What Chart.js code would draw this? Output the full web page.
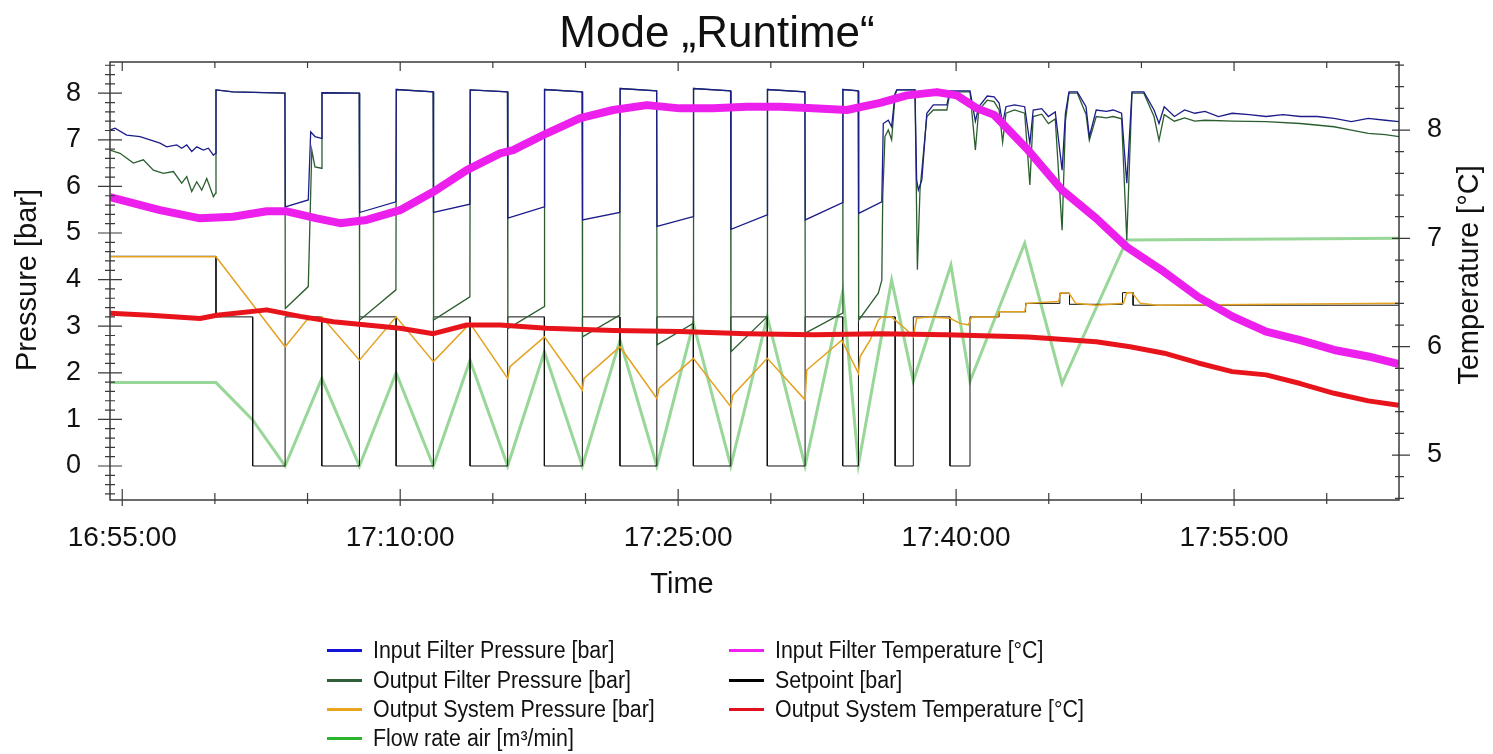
<!DOCTYPE html>
<html>
<head>
<meta charset="utf-8">
<title>Mode Runtime</title>
<script src="https://cdn.jsdelivr.net/npm/chart.js@4.4.1/dist/chart.umd.min.js"></script>
<style>
  body { margin: 0; background: #fff; }
  #wrap { position: relative; width: 1493px; height: 754px; }
  #legend .item { position: absolute; height: 30px; display: flex; align-items: center; }
  #legend .swatch { width: 35px; height: 3px; flex: none; }
  #legend .label { margin-left: 11px; font: 23px 'Liberation Sans', Arial, sans-serif; color: #111;
                   transform: scaleX(0.93); transform-origin: left center; white-space: nowrap; }
</style>
</head>
<body>
<div id="wrap">
  <canvas id="runtime" width="1493" height="754"></canvas>
  <div id="legend"></div>
</div>
<script>
// time = minutes after 16:55:00
const inputFilterPressure = [
  [-0.66, 7.21], [-0.39, 7.25], [0.24, 7.10], [0.96, 7.07], [1.50, 7.00], [2.04, 6.93], [2.40, 6.85],
  [2.94, 6.89], [3.21, 6.82], [3.48, 6.89], [3.75, 6.75], [4.02, 6.85], [4.38, 6.78], [4.65, 6.82],
  [4.92, 6.67], [5.03, 6.71], [5.06, 8.07], [5.98, 8.03], [8.78, 8.00], [8.80, 5.56], [10.04, 5.71],
  [10.17, 7.17], [10.40, 7.07], [10.75, 7.03], [10.78, 8.01], [12.79, 8.00], [12.81, 5.44], [14.77, 5.67],
  [14.79, 8.08], [16.78, 8.03], [16.80, 5.44], [18.76, 5.62], [18.78, 8.07], [20.79, 8.03], [20.81, 5.32],
  [22.77, 5.56], [22.79, 8.08], [24.82, 8.03], [24.84, 5.28], [26.85, 5.44], [26.87, 8.10], [28.84, 8.05],
  [28.86, 5.14], [30.81, 5.35], [30.83, 8.10], [32.83, 8.05], [32.85, 5.08], [34.80, 5.39], [34.82, 8.08],
  [36.84, 8.03], [36.86, 5.28], [38.87, 5.65], [38.89, 8.08], [39.72, 8.05], [39.74, 5.42], [40.99, 5.67],
  [41.07, 7.35], [41.34, 7.42], [41.52, 7.28], [41.71, 8.00], [41.80, 8.07], [42.78, 8.07], [42.87, 6.14],
  [42.96, 5.92], [43.15, 6.14], [43.42, 7.57], [43.77, 7.75], [44.50, 7.75], [44.67, 8.05], [45.75, 8.05],
  [46.04, 7.40], [46.22, 7.71], [46.68, 7.94], [47.05, 7.92], [47.32, 7.79], [47.51, 7.35], [47.69, 7.71],
  [48.15, 7.75], [48.70, 7.71], [48.98, 6.92], [49.16, 7.64], [49.62, 7.67], [49.98, 7.50], [50.35, 7.60],
  [50.72, 6.35], [50.90, 7.57], [51.09, 8.03], [51.54, 8.03], [52.01, 7.71], [52.19, 7.07], [52.56, 7.64],
  [53.11, 7.61], [53.48, 7.64], [53.93, 7.57], [54.21, 6.07], [54.49, 8.03], [55.13, 8.03], [55.68, 7.64],
  [55.95, 7.35], [56.23, 7.71], [56.78, 7.50], [57.33, 7.64], [57.88, 7.57], [58.43, 7.61], [59.16, 7.50],
  [59.90, 7.57], [60.82, 7.54], [61.73, 7.50], [62.65, 7.54], [63.57, 7.50], [64.49, 7.50], [65.40, 7.46],
  [66.33, 7.39], [67.24, 7.46], [68.16, 7.42], [68.90, 7.39]
];

const outputFilterPressure = [
  [-0.66, 6.78], [-0.12, 6.71], [0.60, 6.50], [1.14, 6.57], [1.68, 6.35], [2.22, 6.28], [2.76, 6.32],
  [3.21, 6.07], [3.48, 6.21], [3.75, 5.89], [4.02, 6.10], [4.29, 5.92], [4.56, 6.17], [4.92, 5.78],
  [5.03, 5.85], [5.06, 8.07], [5.98, 8.03], [8.78, 8.00], [8.80, 3.38], [10.04, 3.85], [10.23, 6.78],
  [10.40, 6.42], [10.75, 6.39], [10.78, 8.01], [12.79, 8.00], [12.81, 3.13], [14.77, 3.78], [14.79, 8.08],
  [16.78, 8.03], [16.80, 3.13], [18.76, 3.63], [18.78, 8.07], [20.79, 8.03], [20.81, 2.95], [22.77, 3.42],
  [22.79, 8.08], [24.82, 8.03], [24.84, 2.77], [26.85, 3.24], [26.87, 8.10], [28.84, 8.05], [28.86, 2.60],
  [30.81, 3.06], [30.83, 8.10], [32.83, 8.05], [32.85, 2.45], [34.80, 3.20], [34.82, 8.08], [36.84, 8.03],
  [36.86, 2.85], [38.87, 3.28], [38.89, 8.08], [39.72, 8.05], [39.74, 3.13], [40.80, 3.71], [40.99, 3.99],
  [41.04, 5.78], [41.16, 7.07], [41.34, 7.21], [41.52, 7.00], [41.71, 7.96], [41.80, 8.07], [42.78, 8.07],
  [42.91, 4.21], [43.05, 5.92], [43.42, 7.50], [43.77, 7.64], [44.50, 7.64], [44.67, 8.03], [45.75, 8.03],
  [46.04, 6.78], [46.22, 7.64], [46.68, 7.85], [47.05, 7.82], [47.32, 7.64], [47.51, 6.95], [47.69, 7.57],
  [48.15, 7.64], [48.70, 7.57], [48.98, 6.03], [49.16, 7.50], [49.62, 7.55], [49.98, 7.35], [50.35, 7.45],
  [50.72, 5.06], [50.90, 7.40], [51.09, 8.00], [51.54, 8.00], [52.01, 7.55], [52.19, 6.99], [52.56, 7.50],
  [53.11, 7.47], [53.48, 7.50], [53.93, 7.45], [54.21, 4.85], [54.49, 8.00], [55.13, 8.00], [55.68, 7.50],
  [55.95, 6.99], [56.23, 7.54], [56.78, 7.40], [57.33, 7.47], [57.88, 7.40], [58.43, 7.42], [59.90, 7.40],
  [61.73, 7.39], [63.57, 7.35], [65.40, 7.28], [66.33, 7.21], [67.24, 7.14], [68.16, 7.11], [68.90, 7.07]
];

const outputSystemPressure = [
  [-0.66, 4.49], [5.06, 4.49], [8.79, 2.56], [9.96, 3.13], [10.77, 3.20], [12.80, 2.27], [14.78, 3.20],
  [16.79, 2.24], [18.77, 3.06], [20.80, 1.88], [20.92, 2.13], [22.78, 2.77], [24.83, 1.63], [24.92, 1.88],
  [26.86, 2.56], [28.85, 1.45], [28.98, 1.67], [30.82, 2.31], [32.84, 1.27], [32.95, 1.52], [34.81, 2.31],
  [36.85, 1.42], [36.94, 2.06], [38.83, 2.70], [39.73, 1.99], [39.82, 2.35], [40.36, 2.70], [40.80, 3.13],
  [40.99, 3.20], [41.52, 3.20], [41.71, 3.13], [42.34, 2.92], [42.69, 2.77], [42.87, 3.17], [43.59, 3.20],
  [44.67, 3.17], [45.21, 3.06], [45.66, 3.03], [45.84, 3.20], [47.23, 3.20], [47.32, 3.31], [48.70, 3.31],
  [48.79, 3.49], [50.53, 3.53], [50.63, 3.71], [51.09, 3.71], [51.45, 3.49], [52.56, 3.45], [54.03, 3.49],
  [54.21, 3.72], [54.49, 3.72], [54.94, 3.49], [55.86, 3.45], [68.90, 3.49]
];

const flowRateAir = [
  [-0.66, 1.79], [5.06, 1.79], [7.04, 0.99], [8.79, 0.00], [10.77, 1.88], [12.80, 0.00], [14.78, 2.00],
  [16.79, 0.00], [18.77, 2.27], [20.80, 0.00], [22.78, 2.45], [24.83, 0.00], [26.86, 2.70], [28.85, 0.00],
  [30.82, 3.06], [32.84, 0.00], [34.81, 3.20], [36.85, 0.00], [38.88, 3.74], [39.73, 0.03], [41.52, 3.99],
  [42.69, 1.82], [44.72, 4.31], [45.75, 1.82], [48.70, 4.78], [50.72, 1.77], [54.21, 4.85], [68.90, 4.89]
];

const inputFilterTemperature = [
  [-0.66, 7.38], [2.04, 7.26], [4.20, 7.185], [5.98, 7.20], [7.80, 7.25], [8.88, 7.25], [10.50, 7.185],
  [11.76, 7.14], [13.19, 7.17], [14.99, 7.26], [16.79, 7.43], [18.59, 7.63], [20.39, 7.785], [21.09, 7.815],
  [22.91, 7.97], [24.71, 8.11], [26.49, 8.185], [28.31, 8.23], [30.10, 8.20], [31.88, 8.20], [33.70, 8.215],
  [35.50, 8.215], [37.28, 8.20], [39.10, 8.185], [40.90, 8.25], [42.34, 8.32], [43.96, 8.35], [45.04, 8.32],
  [46.13, 8.20], [47.05, 8.14], [48.88, 7.815], [50.72, 7.446], [52.56, 7.185], [54.21, 6.92], [56.23, 6.69],
  [58.06, 6.46], [59.90, 6.28], [61.73, 6.14], [63.57, 6.06], [65.40, 5.97], [67.24, 5.91], [68.90, 5.84]
];

const setpoint = [
  [-0.66, 4.5], [5.06, 4.5], [5.06, 3.2], [7.04, 3.2], [7.04, 0], [8.79, 0], [8.79, 3.2], [10.77, 3.2],
  [10.77, 0], [12.80, 0], [12.80, 3.2], [14.78, 3.2], [14.78, 0], [16.79, 0], [16.79, 3.2], [18.77, 3.2],
  [18.77, 0], [20.80, 0], [20.80, 3.2], [22.78, 3.2], [22.78, 0], [24.83, 0], [24.83, 3.2], [26.86, 3.2],
  [26.86, 0], [28.85, 0], [28.85, 3.2], [30.82, 3.2], [30.82, 0], [32.84, 0], [32.84, 3.2], [34.81, 3.2],
  [34.81, 0], [36.85, 0], [36.85, 3.2], [38.88, 3.2], [38.88, 0], [39.73, 0], [39.73, 3.2], [41.71, 3.2],
  [41.71, 0], [42.69, 0], [42.69, 3.2], [44.67, 3.2], [44.67, 0], [45.75, 0], [45.75, 3.2], [47.32, 3.2],
  [47.32, 3.31], [48.75, 3.31], [48.75, 3.49], [50.60, 3.49], [50.60, 3.71], [51.12, 3.71], [51.12, 3.47],
  [53.98, 3.47], [53.98, 3.72], [54.55, 3.72], [54.55, 3.45], [68.90, 3.45]
];

const outputSystemTemperature = [
  [-0.66, 6.31], [1.50, 6.29], [4.20, 6.26], [5.10, 6.29], [7.80, 6.34], [9.60, 6.28], [11.39, 6.23],
  [13.19, 6.20], [14.99, 6.17], [16.79, 6.12], [18.59, 6.20], [20.39, 6.20], [22.91, 6.17], [26.50, 6.15],
  [30.10, 6.14], [33.70, 6.12], [37.30, 6.11], [40.90, 6.12], [44.50, 6.11], [48.88, 6.09], [52.56, 6.045],
  [54.39, 6.00], [56.23, 5.94], [58.06, 5.85], [59.90, 5.77], [61.73, 5.74], [63.57, 5.66], [65.40, 5.57],
  [67.24, 5.50], [68.90, 5.46]
];

const timeTicks = [0, 15, 30, 45, 60];
const pressureTicks = [0, 1, 2, 3, 4, 5, 6, 7, 8];
const temperatureTicks = [5, 6, 7, 8];

const pts = (rows) => rows.map(r => ({ x: r[0], y: r[1] }));

function clock(min) {
  let s = Math.round((16 * 60 + 55 + min) * 60);
  let parts = [Math.floor(s / 3600), Math.floor(s / 60) % 60, s % 60];
  return parts.map(n => String(n).padStart(2, '0')).join(':');
}

const FONT = "'Liberation Sans', Arial, sans-serif";
Chart.defaults.font.family = FONT;
Chart.defaults.color = '#111';

// frame, inner tick marks and the free-standing texts
const decorations = {
  id: 'decorations',
  afterDraw(chart) {
    const { ctx, chartArea: a, scales } = chart;
    ctx.save();
    ctx.strokeStyle = '#3a3a3a';
    ctx.lineWidth = 1.5;
    ctx.strokeRect(a.left, a.top, a.right - a.left, a.bottom - a.top);

    ctx.lineWidth = 1.2;
    ctx.beginPath();
    for (let m = 0; m <= scales.x.max; m += 5) {
      let px = scales.x.getPixelForValue(m);
      let major = m % 15 === 0;
      ctx.moveTo(px, a.bottom - (major ? 11 : 7));
      ctx.lineTo(px, a.bottom + (major ? 6 : 4));
      ctx.moveTo(px, a.top);
      ctx.lineTo(px, a.top + (major ? 9 : 6));
    }
    for (let i = Math.ceil(scales.yP.min * 5); i <= scales.yP.max * 5; i++) {
      let py = scales.yP.getPixelForValue(i / 5);
      let major = i % 5 === 0;
      ctx.moveTo(a.left - (major ? 12 : 5), py);
      ctx.lineTo(a.left + (major ? 12 : 5), py);
    }
    for (let i = Math.ceil(scales.yT.min * 5); i <= scales.yT.max * 5; i++) {
      let py = scales.yT.getPixelForValue(i / 5);
      let major = i % 5 === 0;
      ctx.moveTo(a.right - (major ? 7 : 4), py);
      ctx.lineTo(a.right + (major ? 11 : 5), py);
    }
    ctx.stroke();

    ctx.fillStyle = '#111';
    ctx.textAlign = 'center';
    ctx.textBaseline = 'alphabetic';
    ctx.font = '44px ' + FONT;
    ctx.fillText('Mode \u201eRuntime\u201c', 717, 47);
    ctx.font = '29px ' + FONT;
    ctx.fillText('Time', 682, 593);

    ctx.save();
    ctx.translate(36, 280);
    ctx.rotate(-Math.PI / 2);
    ctx.fillText('Pressure [bar]', 0, 0);
    ctx.restore();

    ctx.save();
    ctx.translate(1478, 275);
    ctx.rotate(-Math.PI / 2);
    ctx.fillText('Temperature [°C]', 0, 0);
    ctx.restore();

    ctx.restore();
  }
};

let ctx = document.getElementById('runtime').getContext('2d');

let chart = new Chart(ctx, {
  type: 'line',
  data: {
    datasets: [{
      label: 'Input Filter Pressure [bar]',
      data: pts(inputFilterPressure),
      borderColor: '#1c1c8a',
      legendColor: '#1414d8',
      borderWidth: 1.3,
      yAxisID: 'yP',
      order: 4,
    }, {
      label: 'Output Filter Pressure [bar]',
      data: pts(outputFilterPressure),
      borderColor: '#2b5e2f',
      legendColor: '#2d6038',
      borderWidth: 1.3,
      yAxisID: 'yP',
      order: 5,
    }, {
      label: 'Output System Pressure [bar]',
      data: pts(outputSystemPressure),
      borderColor: '#e3a11f',
      legendColor: '#e8a41c',
      borderWidth: 1.5,
      yAxisID: 'yP',
      order: 3,
    }, {
      label: 'Flow rate air [m³/min]',
      data: pts(flowRateAir),
      borderColor: 'rgba(50,175,50,0.5)',
      legendColor: '#2db42d',
      borderWidth: 3,
      yAxisID: 'yP',
      order: 7,
    }, {
      label: 'Input Filter Temperature [°C]',
      data: pts(inputFilterTemperature),
      borderColor: '#ec1fec',
      legendColor: '#f020f0',
      borderWidth: 8,
      borderJoinStyle: 'round',
      yAxisID: 'yT',
      order: 1,
    }, {
      label: 'Setpoint [bar]',
      data: pts(setpoint),
      borderColor: '#111',
      legendColor: '#000',
      borderWidth: 1,
      yAxisID: 'yP',
      order: 6,
    }, {
      label: 'Output System Temperature [°C]',
      data: pts(outputSystemTemperature),
      borderColor: '#e8141c',
      legendColor: '#e01020',
      borderWidth: 5,
      borderJoinStyle: 'round',
      yAxisID: 'yT',
      order: 2,
    }],
  },
  options: {
    responsive: false,
    animation: false,
    layout: { padding: { top: 62, left: 0, right: 0, bottom: 0 } },
    elements: {
      point: { radius: 0 },
      line: { tension: 0 },
    },
    plugins: {
      legend: { display: false },
      tooltip: { enabled: false },
      title: { display: false },
    },
    scales: {
      x: {
        type: 'linear',
        min: -0.66,
        max: 68.90,
        afterFit: (s) => { s.height = 254; },
        afterBuildTicks: (s) => { s.ticks = timeTicks.map(v => ({ value: v })); },
        ticks: { callback: (v) => clock(v), font: { size: 28 }, padding: 21, maxRotation: 0, autoSkip: false },
        grid: { display: false, drawTicks: false },
        border: { display: false },
      },
      yP: {
        position: 'left',
        min: -0.73,
        max: 8.67,
        afterFit: (s) => { s.width = 110; },
        afterBuildTicks: (s) => { s.ticks = pressureTicks.map(v => ({ value: v })); },
        ticks: { font: { size: 27 }, padding: 29, autoSkip: false },
        grid: { display: false, drawTicks: false },
        border: { display: false },
      },
      yT: {
        position: 'right',
        min: 4.585,
        max: 8.628,
        afterFit: (s) => { s.width = 94; },
        afterBuildTicks: (s) => { s.ticks = temperatureTicks.map(v => ({ value: v })); },
        ticks: { font: { size: 27 }, padding: 28, autoSkip: false },
        grid: { display: false, drawTicks: false },
        border: { display: false },
      },
    },
  },
  plugins: [decorations],
});

// legend in two columns, like the original
const legendCols = [327, 729];
const legendRows = [650, 680, 709, 738];
let legend = document.getElementById('legend');
chart.data.datasets.forEach((ds, i) => {
  let col = i < 4 ? 0 : 1;
  let row = i < 4 ? i : i - 4;
  let item = document.createElement('div');
  item.className = 'item';
  item.style.left = legendCols[col] + 'px';
  item.style.top = (legendRows[row] - 15) + 'px';
  let swatch = document.createElement('span');
  swatch.className = 'swatch';
  swatch.style.background = ds.legendColor;
  let text = document.createElement('span');
  text.className = 'label';
  text.textContent = ds.label;
  item.appendChild(swatch);
  item.appendChild(text);
  legend.appendChild(item);
});
</script>
</body>
</html>
